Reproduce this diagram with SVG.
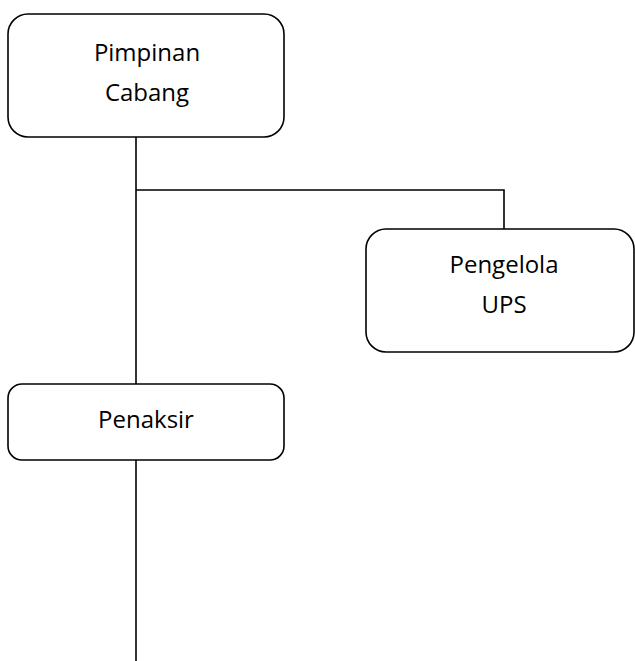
<svg xmlns="http://www.w3.org/2000/svg" width="635" height="661" viewBox="0 0 635 661">
<style>
.box{fill:#fff;stroke:#000;stroke-width:1.6}
.ln{fill:none;stroke:#000;stroke-width:1.6}
.t{font-family:"Open Sans","Noto Sans",sans-serif;font-size:24px;fill:#000;text-anchor:middle}
</style>
<rect width="635" height="661" fill="#fff"/>
<g id="connectors">
<path class="ln" d="M136 137V384"/>
<path class="ln" d="M136 460V661"/>
<path class="ln" d="M136 190H504V229"/>
</g>
<g id="pimpinan">
<rect class="box" x="8" y="14" width="276" height="123" rx="20"/>
<text class="t" x="147" y="61">Pimpinan</text>
<text class="t" x="147" y="101">Cabang</text>
</g>
<g id="pengelola">
<rect class="box" x="366" y="229" width="268" height="123" rx="20"/>
<text class="t" x="504" y="273">Pengelola</text>
<text class="t" x="504" y="313">UPS</text>
</g>
<g id="penaksir">
<rect class="box" x="8" y="384" width="276" height="76" rx="14"/>
<text class="t" x="146" y="428">Penaksir</text>
</g>
</svg>
